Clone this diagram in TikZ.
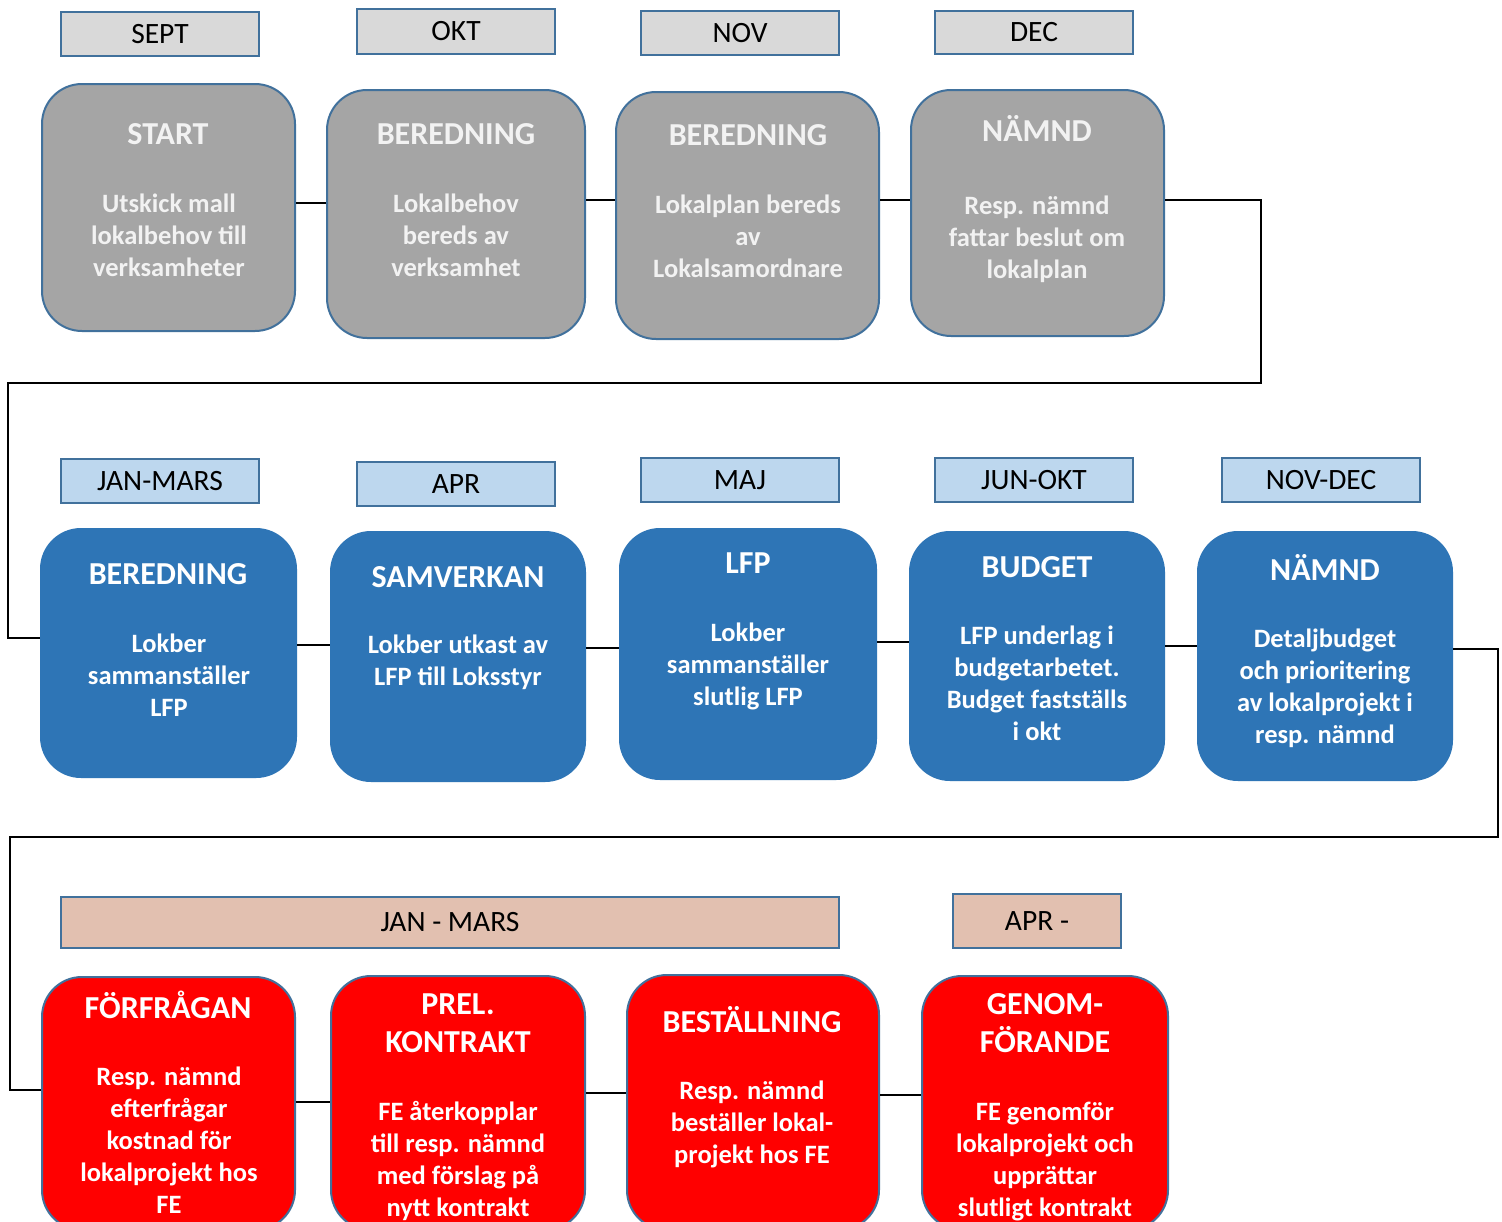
\documentclass[tikz,border=0pt]{standalone}
\usepackage{fontspec}
\setmainfont{Carlito}
\definecolor{edge}{HTML}{41719C}
\definecolor{lgray}{HTML}{D9D9D9}
\definecolor{lblue}{HTML}{BDD7EE}
\definecolor{ltan}{HTML}{E2C0B0}
\definecolor{mgray}{HTML}{A5A5A5}
\definecolor{mblue}{HTML}{2E75B6}
\definecolor{mred}{HTML}{FF0000}
\definecolor{softwhite}{HTML}{F2F2F2}
\begin{document}
\begin{tikzpicture}[x=1pt,y=-1pt,
 lbl/.style={draw=edge, line width=2pt, inner sep=0pt, font=\fontsize{29.5}{32}\selectfont, text=black},
 stepbox/.style={draw=edge, line width=2pt, rounded corners=40pt, inner sep=0pt},
 graybox/.style={stepbox, fill=mgray},
 bluebox/.style={stepbox, fill=mblue, draw=mblue},
 redbox/.style={stepbox, fill=mred},
 ttl/.style={font=\bfseries\fontsize{32}{38}\selectfont, align=center, inner sep=0pt, text=white},
 bdy/.style={font=\bfseries\fontsize{26.5}{32}\selectfont, align=center, inner sep=0pt, text=white},
 gtxt/.style={text=softwhite},
 conn/.style={line width=2.5pt, black}]
\clip (0,0) rectangle (1502,1221);
\fill[white] (0,0) rectangle (1502,1221);

% ---------- Row 1 ----------
\node[lbl, fill=lgray, minimum width=198pt, minimum height=44pt] (l11) at (160,34) {SEPT};
\node[lbl, fill=lgray, minimum width=198pt, minimum height=45pt] (l12) at (456,31.5) {OKT};
\node[lbl, fill=lgray, minimum width=198pt, minimum height=44pt] (l13) at (740,33) {NOV};
\node[lbl, fill=lgray, minimum width=198pt, minimum height=43pt] (l14) at (1034,32.5) {DEC};

\node[graybox, minimum width=253pt, minimum height=247pt] (b11) at (168.5,207.5) {};
\node[graybox, minimum width=258pt, minimum height=248pt] (b12) at (456,214) {};
\node[graybox, minimum width=263pt, minimum height=247pt] (b13) at (747.5,215.5) {};
\node[graybox, minimum width=253pt, minimum height=246pt] (b14) at (1037.5,213) {};

\node[ttl, gtxt] (t11) at (168,134) {START};
\node[bdy, gtxt] (d11) at (169,235) {Utskick mall\\lokalbehov till\\verksamheter};
\node[ttl, gtxt] (t12) at (456,134) {BEREDNING};
\node[bdy, gtxt] (d12) at (456,235) {Lokalbehov\\bereds av\\verksamhet};
\node[ttl, gtxt] (t13) at (748,135) {BEREDNING};
\node[bdy, gtxt] (d13) at (748,236.5) {Lokalplan bereds\\av\\Lokalsamordnare};
\node[ttl, gtxt] (t14) at (1037,128) {NÄMND};
\node[bdy, gtxt] (d14) at (1037,239) {Resp. nämnd\\fattar beslut om\\lokalplan};

% ---------- Row 2 ----------
\node[lbl, fill=lblue, minimum width=198pt, minimum height=44pt] (l21) at (160,481) {JAN-MARS};
\node[lbl, fill=lblue, minimum width=198pt, minimum height=44pt] (l22) at (456,484) {APR};
\node[lbl, fill=lblue, minimum width=198pt, minimum height=44pt] (l23) at (740,480) {MAJ};
\node[lbl, fill=lblue, minimum width=198pt, minimum height=44pt] (l24) at (1034,480) {JUN-OKT};
\node[lbl, fill=lblue, minimum width=198pt, minimum height=44pt] (l25) at (1321,480) {NOV-DEC};

\node[bluebox, minimum width=255pt, minimum height=248pt] (b21) at (168.5,653) {};
\node[bluebox, minimum width=254pt, minimum height=249pt] (b22) at (458,656.5) {};
\node[bluebox, minimum width=256pt, minimum height=250pt] (b23) at (748,654) {};
\node[bluebox, minimum width=254pt, minimum height=248pt] (b24) at (1037,656) {};
\node[bluebox, minimum width=254pt, minimum height=248pt] (b25) at (1325,656) {};

\node[ttl] (t21) at (168,574) {BEREDNING};
\node[bdy] (d21) at (169,675) {Lokber\\sammanställer\\LFP};
\node[ttl] (t22) at (458,577) {SAMVERKAN};
\node[bdy] (d22) at (458,662) {Lokber utkast av\\LFP till Loksstyr};
\node[ttl] (t23) at (748,563) {LFP};
\node[bdy] (d23) at (748,666) {Lokber\\sammanställer\\slutlig LFP};
\node[ttl] (t24) at (1037,567) {BUDGET};
\node[bdy] (d24) at (1037,683) {LFP underlag i\\budgetarbetet.\\Budget fastställs\\i okt};
\node[ttl] (t25) at (1325,567) {NÄMND};
\node[bdy] (d25) at (1325,688) {Detaljbudget\\och prioritering\\av lokalprojekt i\\resp. nämnd};

% ---------- Row 3 ----------
\node[lbl, fill=ltan, minimum width=778pt, minimum height=51pt] (l31) at (450,922.5) {JAN - MARS};
\node[lbl, fill=ltan, minimum width=168pt, minimum height=54pt] (l32) at (1037,921) {APR -};

\node[redbox, minimum width=253pt, minimum height=253pt] (b31) at (168.5,1103.5) {};
\node[redbox, minimum width=254pt, minimum height=254pt] (b32) at (458,1103) {};
\node[redbox, minimum width=252pt, minimum height=255pt] (b33) at (753,1102.5) {};
\node[redbox, minimum width=246pt, minimum height=254pt] (b34) at (1045,1103) {};

\node[ttl] (t31) at (168,1005) {FÖRFRÅGAN};
\node[bdy] (d31) at (169,1140) {Resp. nämnd\\efterfrågar\\kostnad för\\lokalprojekt hos\\FE};
\node[ttl] (t32) at (458,1023) {PREL.\\KONTRAKT};
\node[bdy] (d32) at (458,1161) {FE återkopplar\\till resp. nämnd\\med förslag på\\nytt kontrakt};
\node[ttl] (t33) at (752,1020) {BESTÄLLNING};
\node[bdy] (d33) at (752,1124) {Resp. nämnd\\beställer lokal-\\projekt hos FE};
\node[ttl] (t34) at (1045,1023) {GENOM-\\FÖRANDE};
\node[bdy] (d34) at (1045,1162) {FE genomför\\lokalprojekt och\\upprättar\\slutligt kontrakt};

% ---------- Connectors ----------
\draw[conn] (b11.east |- 0,203) -- (b12.west |- 0,203);
\draw[conn] (b12.east |- 0,200) -- (b13.west |- 0,200);
\draw[conn] (b13.east |- 0,200) -- (b14.west |- 0,200);
\coordinate (r1a) at (1261,200);
\coordinate (r1b) at (1261,383);
\coordinate (r1c) at (8,383);
\coordinate (r1d) at (8,638);
\draw[conn] (b14.east |- r1a) -- (r1a) -- (r1b) -- (r1c) -- (r1d) -- (b21.west |- r1d);

\draw[conn] (b21.east |- 0,645) -- (b22.west |- 0,645);
\draw[conn] (b22.east |- 0,648) -- (b23.west |- 0,648);
\draw[conn] (b23.east |- 0,642) -- (b24.west |- 0,642);
\draw[conn] (b24.east |- 0,646) -- (b25.west |- 0,646);
\coordinate (r2a) at (1498,649);
\coordinate (r2b) at (1498,837);
\coordinate (r2c) at (10,837);
\coordinate (r2d) at (10,1090);
\draw[conn] (b25.east |- r2a) -- (r2a) -- (r2b) -- (r2c) -- (r2d) -- (b31.west |- r2d);

\draw[conn] (b31.east |- 0,1102) -- (b32.west |- 0,1102);
\draw[conn] (b32.east |- 0,1093) -- (b33.west |- 0,1093);
\draw[conn] (b33.east |- 0,1095) -- (b34.west |- 0,1095);
\end{tikzpicture}
\end{document}
